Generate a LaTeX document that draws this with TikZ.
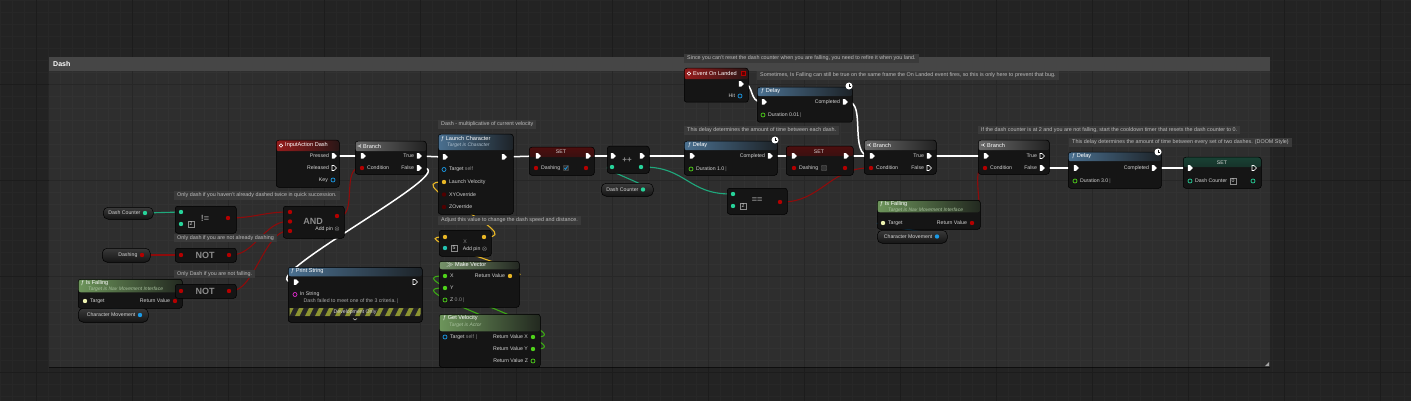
\documentclass[tikz,border=0pt]{standalone}
\usepackage{fontspec}
\setmainfont{Liberation Sans}
\usetikzlibrary{positioning,shapes.symbols,backgrounds}
\pgfdeclarelayer{wires}
\pgfsetlayers{background,wires,main}

\begin{document}
\begin{tikzpicture}[
    x=1pt, y=-1pt,
    font=\fontsize{5.2}{6}\selectfont,
    bpnode/.style={draw=black, fill=uenode, rounded corners=2.5pt, inner sep=0pt,
        anchor=north west, line width=.5pt},
    hdr/.style 2 args={path picture={
        \shade[left color=#1, right color=#1!15!uenode]
            (path picture bounding box.north west)
            rectangle ([yshift=-#2pt]path picture bounding box.north east);}},
    sethdr/.style={path picture={
        \shade[top color=#1, bottom color=uenode]
            (path picture bounding box.north west)
            rectangle ([yshift=-10pt]path picture bounding box.north east);}},
    varnode/.style={draw=black, top color=uevar, bottom color=uenode, rounded corners=5pt,
        inner sep=0pt, anchor=north west, line width=.5pt},
    bubble/.style={fill=uebubble, text=uecmttxt, anchor=north west, inner xsep=3pt,
        inner ysep=1.8pt, font=\fontsize{5.4}{6}\selectfont},
    execpin/.style={signal, fill=white, inner sep=0pt, minimum width=5pt, minimum height=5.5pt},
    hexecpin/.style={signal, draw=white, line width=.6pt, inner sep=0pt,
        minimum width=4.5pt, minimum height=5pt},
    dpin/.style={circle, fill=#1, inner sep=0pt, minimum size=4.4pt},
    hpin/.style={circle, draw=#1, line width=.7pt, inner sep=0pt, minimum size=4pt},
    pintext/.style={text=uetxt, inner sep=.5pt},
    deftext/.style={text=uegrey, inner sep=.5pt},
    titletext/.style={text=white, anchor=west, inner sep=0pt, font=\fontsize{5.6}{6}\selectfont},
    subtext/.style={anchor=west, inner sep=0pt, font=\fontsize{5}{6}\selectfont\itshape},
    optext/.style={text=uegrey, inner sep=0pt, font=\fontsize{9}{10}\selectfont\bfseries},
    litbox/.style={draw=uegrey, inner sep=.8pt, text=uetxt, minimum size=5.5pt},
    latent/.style={circle, fill=white, inner sep=0pt, minimum size=7pt},
    execw/.style={white, line width=1.5pt},
    dataw/.style={line width=1.1pt}
]

\definecolor{uebg}{HTML}{232323}
\definecolor{uegrid}{HTML}{272727}
\definecolor{uemajor}{HTML}{1C1C1C}
\definecolor{uecmthdr}{HTML}{464646}
\definecolor{uenode}{HTML}{151515}
\definecolor{uevar}{HTML}{3A3A3A}
\definecolor{uebubble}{HTML}{3A3A3A}
\definecolor{uecmttxt}{HTML}{BDBDBD}
\definecolor{uetxt}{HTML}{D4D4D4}
\definecolor{uegrey}{HTML}{8C8C8C}
\definecolor{uebool}{HTML}{B40000}
\definecolor{ueboolw}{HTML}{8E0B0B}
\definecolor{ueint}{HTML}{27D39A}
\definecolor{ueintw}{HTML}{1FA87C}
\definecolor{uevec}{HTML}{E8B625}
\definecolor{uefloat}{HTML}{4FD21A}
\definecolor{uefloatw}{HTML}{3BA814}
\definecolor{ueobj}{HTML}{1A9AE6}
\definecolor{ueiface}{HTML}{EEF2B0}
\definecolor{uestr}{HTML}{E22BD0}
\definecolor{hfunc}{HTML}{4A7090}
\definecolor{hpure}{HTML}{6D955B}
\definecolor{hevent}{HTML}{961C1C}
\definecolor{hbranch}{HTML}{6A6A6A}
\definecolor{hazard}{HTML}{8C9431}

\useasboundingbox (0,0) rectangle (1411,401);

% ==========================================
% 1. BACKGROUND GRID & COMMENT FRAME
% ==========================================

\begin{pgfonlayer}{background}
    \fill[uebg] (0,0) rectangle (1411,401);
    \foreach \x in {0,12,...,1404}
        \draw[uegrid, line width=.5pt] (\x,0) -- (\x,401);
    \foreach \y in {0,12,...,396}
        \draw[uegrid, line width=.5pt] (0,\y) -- (1411,\y);
    \foreach \x in {36,132,...,1380}
        \draw[uemajor, line width=.9pt] (\x,0) -- (\x,401);
    \foreach \y in {84,180,276,372}
        \draw[uemajor, line width=.9pt] (0,\y) -- (1411,\y);

    % comment frame
    \fill[white, opacity=.05] (49,71) rectangle (1270,367);
    \fill[uecmthdr] (49,57) rectangle (1270,71);
    \draw[black, opacity=.6, line width=1pt] (49,367.5) -- (1270,367.5);
    \fill[gray!70] (1269,362) -- (1269,366) -- (1265,366) -- cycle;
\end{pgfonlayer}

\node[text=white, anchor=west, inner sep=0pt, font=\fontsize{7}{8}\selectfont\bfseries]
    (dashTitle) at (53,64) {Dash};

% ==========================================
% 2. CONDITIONS (left column)
% ==========================================

\node[bubble] (cmtTwice) at (174,191) {Only dash if you haven't already dashed twice in quick succession.};
\node[bubble] (cmtDashing) at (174,233.5) {Only dash if you are not already dashing};
\node[bubble] (cmtFalling) at (174,269.5) {Only Dash if you are not falling.};

% Dash Counter -> !=
\node[varnode, minimum width=50pt, minimum height=12pt] (dcA) at (103,207) {};
\node[dpin=ueint] (dcA-o) at (145,213) {};
\node[pintext, left=1.5pt of dcA-o] (dcA-l) {Dash Counter};

\node[bpnode, minimum width=61pt, minimum height=27pt] (neq) at (175,206) {};
\node[dpin=ueint] (neq-a) at (181,212) {};
\node[dpin=ueint] (neq-b) at (181,224) {};
\node[litbox] (neq-lit) at (191,224) {2};
\node[optext] (neq-op) at (205,218) {!=};
\node[dpin=uebool] (neq-o) at (228,218) {};

% Dashing -> NOT
\node[varnode, minimum width=48pt, minimum height=14pt] (dsh) at (102,248) {};
\node[dpin=uebool] (dsh-o) at (142,255) {};
\node[pintext, left=1.5pt of dsh-o] (dsh-l) {Dashing};

\node[bpnode, minimum width=61pt, minimum height=14pt] (notA) at (175,248) {};
\node[dpin=uebool] (notA-i) at (181,255) {};
\node[dpin=uebool] (notA-o) at (229,255) {};
\node[optext] (notA-op) at (205,255) {NOT};

% Is Falling -> NOT
\node[bpnode, minimum width=104pt, minimum height=29pt, hdr={hpure}{13}] (fallA) at (78,279) {};
\node[titletext] (fallA-t) at (81,283.5) {ƒ Is Falling};
\node[subtext, text=hpure!60!white] (fallA-s) at (88,289.5) {Target is Nav Movement Interface};
\node[dpin=ueiface] (fallA-tg) at (85,301) {};
\node[pintext, right=2pt of fallA-tg] (fallA-tgl) {Target};
\node[dpin=uebool] (fallA-o) at (175,301) {};
\node[pintext, left=2pt of fallA-o] (fallA-ol) {Return Value};

\node[varnode, minimum width=70pt, minimum height=14pt] (cmvA) at (78,308) {};
\node[dpin=ueobj] (cmvA-o) at (140,315) {};
\node[pintext, left=1.5pt of cmvA-o] (cmvA-l) {Character Movement};

\node[bpnode, minimum width=61pt, minimum height=14pt] (notB) at (175,284) {};
\node[dpin=uebool] (notB-i) at (181,291) {};
\node[dpin=uebool] (notB-o) at (229,291) {};
\node[optext] (notB-op) at (205,291) {NOT};

% AND
\node[bpnode, minimum width=61pt, minimum height=32pt] (andN) at (283,206) {};
\node[dpin=uebool] (andN-a) at (290,212) {};
\node[dpin=uebool] (andN-b) at (290,221.5) {};
\node[dpin=uebool] (andN-c) at (290,231) {};
\node[dpin=uebool] (andN-o) at (337,216) {};
\node[optext] (andN-op) at (313,221) {AND};
\node[pintext, anchor=east] (andN-add) at (340.5,229) {Add pin $\otimes$};

% ==========================================
% 3. INPUT, BRANCH, PRINT STRING
% ==========================================

\node[bpnode, minimum width=63pt, minimum height=47pt, hdr={hevent}{11}] (inDash) at (276,140) {};
\draw[white, line width=.6pt] (281,145.5) circle (1.8pt);
\node[titletext] (inDash-t) at (285,145.5) {InputAction Dash};
\node[execpin] (inDash-pr) at (333,156) {};
\node[pintext, left=2pt of inDash-pr] (inDash-prl) {Pressed};
\node[hexecpin] (inDash-re) at (333,168) {};
\node[pintext, left=2pt of inDash-re] (inDash-rel) {Released};
\node[hpin=ueobj] (inDash-k) at (333,180) {};
\node[pintext, left=2pt of inDash-k] (inDash-kl) {Key};

\node[bpnode, minimum width=71pt, minimum height=33pt, hdr={hbranch}{10}] (brA) at (355,141) {};
\draw[white, line width=.6pt] (357.5,146) -- (359.5,146) -- (361,144.5) (359.5,146) -- (361,147.5);
\node[titletext] (brA-t) at (363,146) {Branch};
\node[execpin] (brA-in) at (362,156) {};
\node[dpin=uebool] (brA-c) at (362,168) {};
\node[pintext, right=2pt of brA-c] (brA-cl) {Condition};
\node[execpin] (brA-tr) at (418,156) {};
\node[pintext, left=2pt of brA-tr] (brA-trl) {True};
\node[execpin] (brA-fa) at (418,168) {};
\node[pintext, left=2pt of brA-fa] (brA-fal) {False};

\node[bpnode, minimum width=134pt, minimum height=55pt, hdr={hfunc}{9}] (prStr) at (288,267) {};
\node[titletext] (prStr-t) at (291,271.5) {ƒ Print String};
\node[execpin] (prStr-in) at (295,282) {};
\node[hexecpin] (prStr-out) at (414,282) {};
\node[hpin=uestr] (prStr-s) at (295,294.5) {};
\node[pintext, right=2pt of prStr-s] (prStr-sl) {In String};
\node[deftext, anchor=west, text=uetxt!80!black] (prStr-def) at (303,301) {Dash failed to meet one of the 3 criteria.\,\textcolor{uegrey}{|}};
\begin{scope}
    \clip (289.5,308) rectangle (420.5,316);
    \fill[black!85] (289,308) rectangle (421,316);
    \foreach \i in {0,...,15}
        \fill[hazard] ({285+\i*10},316) -- ++(4,-8) -- ++(4.5,0) -- ++(-4,8) -- cycle;
\end{scope}
\node[text=uetxt, inner sep=0pt] (prStr-dev) at (355,312) {Development Only};
\draw[uetxt, line width=.5pt] (353,318.5) -- (355,320) -- (357,318.5);

% ==========================================
% 4. LAUNCH CHARACTER & VELOCITY MATH
% ==========================================

\node[bubble] (cmtMult) at (438,120) {Dash - multiplicative of current velocity};
\node[bubble] (cmtAdjust) at (438,216) {Adjust this value to change the dash speed and distance.};

\node[bpnode, minimum width=75pt, minimum height=80pt, hdr={hfunc}{16}] (launch) at (438,134) {};
\node[titletext] (launch-t) at (441,139) {ƒ Launch Character};
\node[subtext, text=hfunc!45!white] (launch-s) at (447,145) {Target is Character};
\node[execpin] (launch-in) at (444,157) {};
\node[execpin] (launch-out) at (503,157) {};
\node[hpin=ueobj] (launch-tg) at (444,169.5) {};
\node[pintext, right=2pt of launch-tg] (launch-tgl) {Target \textcolor{uegrey}{self}};
\node[dpin=uevec] (launch-v) at (444,182) {};
\node[pintext, right=2pt of launch-v] (launch-vl) {Launch Velocity};
\node[dpin=uebool!45!black] (launch-xy) at (444,194.5) {};
\node[pintext, right=2pt of launch-xy] (launch-xyl) {XYOverride};
\node[dpin=uebool!45!black] (launch-z) at (444,207) {};
\node[pintext, right=2pt of launch-z] (launch-zl) {ZOverride};

% multiply
\node[bpnode, minimum width=52pt, minimum height=26pt] (mul) at (439,230) {};
\node[dpin=uevec] (mul-a) at (445,237) {};
\node[dpin=uevec] (mul-o) at (484,237) {};
\node[dpin=ueint!70!ueobj] (mul-b) at (445,248) {};
\node[litbox] (mul-lit) at (454,248) {5};
\node[text=uegrey, inner sep=0pt] (mul-op) at (465,242) {X};
\node[pintext, anchor=east] (mul-add) at (488,249) {Add pin $\otimes$};

% make vector
\node[bpnode, minimum width=80pt, minimum height=46pt, hdr={hpure!70!uegrey}{8}] (mkVec) at (439,261) {};
\node[titletext] (mkVec-t) at (446,265) {$\gg$ Make Vector};
\node[dpin=uefloat] (mkVec-x) at (445,276) {};
\node[pintext, right=2pt of mkVec-x] (mkVec-xl) {X};
\node[dpin=uefloat] (mkVec-y) at (445,288) {};
\node[pintext, right=2pt of mkVec-y] (mkVec-yl) {Y};
\node[hpin=uefloat] (mkVec-z) at (445,300) {};
\node[pintext, right=2pt of mkVec-z] (mkVec-zl) {Z \textcolor{uegrey}{0.0\,|}};
\node[dpin=uevec] (mkVec-o) at (510,276) {};
\node[pintext, left=2pt of mkVec-o] (mkVec-ol) {Return Value};

% get velocity
\node[bpnode, minimum width=101pt, minimum height=53pt, hdr={hpure}{17}] (getVel) at (439,314) {};
\node[titletext] (getVel-t) at (443,318.5) {ƒ Get Velocity};
\node[subtext, text=hpure!60!white] (getVel-s) at (449,325) {Target is Actor};
\node[hpin=ueobj] (getVel-tg) at (445,337) {};
\node[pintext, right=2pt of getVel-tg] (getVel-tgl) {Target \textcolor{uegrey}{self\,\,|}};
\node[dpin=uefloat] (getVel-x) at (533,337) {};
\node[pintext, left=2pt of getVel-x] (getVel-xl) {Return Value X};
\node[dpin=uefloat] (getVel-y) at (533,349) {};
\node[pintext, left=2pt of getVel-y] (getVel-yl) {Return Value Y};
\node[hpin=uefloat] (getVel-z) at (533,361) {};
\node[pintext, left=2pt of getVel-z] (getVel-zl) {Return Value Z};

% ==========================================
% 5. SET DASHING, COUNTER, FIRST DELAY
% ==========================================

\node[bpnode, minimum width=65pt, minimum height=28pt, sethdr=uebool!35!uenode] (setA) at (529,147) {};
\node[text=uetxt, inner sep=0pt] (setA-t) at (561,152) {SET};
\node[execpin] (setA-in) at (537,156) {};
\node[execpin] (setA-out) at (587,156) {};
\node[dpin=uebool] (setA-v) at (536,168) {};
\node[pintext, right=2pt of setA-v] (setA-vl) {Dashing};
\node[draw=uegrey!60!black, fill=black!80, rounded corners=1pt, minimum size=5.5pt, inner sep=0pt] (setA-cb) at (566,168) {};
\draw[ueobj, line width=.7pt] (564.3,168) -- (565.5,169.3) -- (567.6,166.4);
\node[dpin=uebool] (setA-o) at (586,168) {};

\node[bpnode, minimum width=42pt, minimum height=27pt] (incr) at (607,146) {};
\node[optext, font=\fontsize{8}{9}\selectfont\bfseries] (incr-op) at (627,160) {++};
\node[execpin] (incr-in) at (612,156) {};
\node[execpin] (incr-out) at (641,156) {};
\node[dpin=ueint] (incr-a) at (612,167) {};
\node[dpin=ueint] (incr-o) at (641,167) {};

\node[varnode, minimum width=52pt, minimum height=13pt] (dcB) at (601,183) {};
\node[dpin=ueint] (dcB-o) at (643,189.5) {};
\node[pintext, left=1.5pt of dcB-o] (dcB-l) {Dash Counter};

\node[bubble] (cmtEach) at (684,126) {This delay determines the amount of time between each dash.};
\node[bpnode, minimum width=93pt, minimum height=34pt, hdr={hfunc}{9}] (delA) at (684,141) {};
\node[titletext] (delA-t) at (688,145.5) {ƒ Delay};
\node[latent] (delA-lat) at (775,140) {};
\draw[uenode, line width=.5pt] (775,137.8) -- (775,140) -- (776.8,140);
\node[execpin] (delA-in) at (691,156) {};
\node[execpin] (delA-out) at (769,156) {};
\node[pintext, left=2pt of delA-out] (delA-outl) {Completed};
\node[hpin=uefloat] (delA-d) at (691,169) {};
\node[pintext, right=2pt of delA-d] (delA-dl) {Duration \textcolor{uetxt}{1.0}\,\textcolor{uegrey}{|}};

\node[bpnode, minimum width=60pt, minimum height=26pt] (eqN) at (727,188) {};
\node[dpin=ueint] (eqN-a) at (733,194) {};
\node[dpin=ueint] (eqN-b) at (733,206) {};
\node[litbox] (eqN-lit) at (743,206) {2};
\node[optext] (eqN-op) at (757,200) {==};
\node[dpin=uebool] (eqN-o) at (780,202) {};

\node[bpnode, minimum width=67pt, minimum height=29pt, sethdr=uebool!35!uenode] (setB) at (786,146) {};
\node[text=uetxt, inner sep=0pt] (setB-t) at (819,152) {SET};
\node[execpin] (setB-in) at (793,156) {};
\node[execpin] (setB-out) at (845,156) {};
\node[dpin=uebool] (setB-v) at (794,168) {};
\node[pintext, right=2pt of setB-v] (setB-vl) {Dashing};
\node[draw=uegrey!60!black, fill=black!80, rounded corners=1pt, minimum size=5.5pt, inner sep=0pt] (setB-cb) at (824,168) {};
\node[dpin=uebool] (setB-o) at (845,168) {};

% ==========================================
% 6. ON LANDED REFIRE
% ==========================================

\node[bubble] (cmtLand) at (684,54) {Since you can't reset the dash counter when you are falling, you need to refire it when you land.};
\node[bubble] (cmtBug) at (757,71) {Sometimes, Is Falling can still be true on the same frame the On Landed event fires, so this is only here to prevent that bug.};

\node[bpnode, minimum width=64pt, minimum height=34pt, hdr={hevent}{11}] (landed) at (684,68) {};
\draw[white, line width=.6pt] (689,73.5) circle (1.8pt);
\node[titletext] (landed-t) at (693,73.5) {Event On Landed};
\node[draw=uebool, fill=uebool!50!black, minimum size=4pt, inner sep=0pt] (landed-dl) at (743,73.5) {};
\node[execpin] (landed-out) at (740,84) {};
\node[hpin=ueobj] (landed-hit) at (740,96) {};
\node[pintext, left=2pt of landed-hit] (landed-hitl) {Hit};

\node[bpnode, minimum width=95pt, minimum height=35pt, hdr={hfunc}{9}] (delB) at (757,87) {};
\node[titletext] (delB-t) at (761,91.5) {ƒ Delay};
\node[latent] (delB-lat) at (849,86) {};
\draw[uenode, line width=.5pt] (849,83.8) -- (849,86) -- (850.8,86);
\node[execpin] (delB-in) at (763,102) {};
\node[execpin] (delB-out) at (844,102) {};
\node[pintext, left=2pt of delB-out] (delB-outl) {Completed};
\node[hpin=uefloat] (delB-d) at (763,115) {};
\node[pintext, right=2pt of delB-d] (delB-dl) {Duration \textcolor{uetxt}{0.01}\,\textcolor{uegrey}{|}};

% ==========================================
% 7. COOLDOWN BRANCHES
% ==========================================

\node[bpnode, minimum width=72pt, minimum height=34pt, hdr={hbranch}{10}] (brB) at (864,140) {};
\draw[white, line width=.6pt] (867,145) -- (869,145) -- (870.5,143.5) (869,145) -- (870.5,146.5);
\node[titletext] (brB-t) at (873,145) {Branch};
\node[execpin] (brB-in) at (871,156) {};
\node[dpin=uebool] (brB-c) at (871,168) {};
\node[pintext, right=2pt of brB-c] (brB-cl) {Condition};
\node[execpin] (brB-tr) at (928,156) {};
\node[pintext, left=2pt of brB-tr] (brB-trl) {True};
\node[hexecpin] (brB-fa) at (928,168) {};
\node[pintext, left=2pt of brB-fa] (brB-fal) {False};

\node[bpnode, minimum width=103pt, minimum height=29pt, hdr={hpure}{12}] (fallB) at (877,200) {};
\node[titletext] (fallB-t) at (880,204.5) {ƒ Is Falling};
\node[subtext, text=hpure!60!white] (fallB-s) at (888,210.5) {Target is Nav Movement Interface};
\node[dpin=ueiface] (fallB-tg) at (883,223) {};
\node[pintext, right=2pt of fallB-tg] (fallB-tgl) {Target};
\node[dpin=uebool] (fallB-o) at (972,223) {};
\node[pintext, left=2pt of fallB-o] (fallB-ol) {Return Value};

\node[varnode, minimum width=70pt, minimum height=13pt] (cmvB) at (877,230) {};
\node[dpin=ueobj] (cmvB-o) at (937,236.5) {};
\node[pintext, left=1.5pt of cmvB-o] (cmvB-l) {Character Movement};

\node[bubble] (cmtReset) at (978,125.5) {If the dash counter is at 2 and you are not falling, start the cooldown timer that resets the dash counter to 0.};
\node[bpnode, minimum width=71pt, minimum height=34pt, hdr={hbranch}{10}] (brC) at (978,140) {};
\draw[white, line width=.6pt] (981,145) -- (983,145) -- (984.5,143.5) (983,145) -- (984.5,146.5);
\node[titletext] (brC-t) at (987,145) {Branch};
\node[execpin] (brC-in) at (985,156) {};
\node[dpin=uebool] (brC-c) at (985,168) {};
\node[pintext, right=2pt of brC-c] (brC-cl) {Condition};
\node[hexecpin] (brC-tr) at (1041,156) {};
\node[pintext, left=2pt of brC-tr] (brC-trl) {True};
\node[execpin] (brC-fa) at (1041,168) {};
\node[pintext, left=2pt of brC-fa] (brC-fal) {False};

\node[bubble] (cmtDoom) at (1069,138) {This delay determines the amount of time between every set of two dashes. (DOOM Style)};
\node[bpnode, minimum width=93pt, minimum height=36pt, hdr={hfunc}{9}] (delC) at (1068,152) {};
\node[titletext] (delC-t) at (1072,156.5) {ƒ Delay};
\node[latent] (delC-lat) at (1158,152) {};
\draw[uenode, line width=.5pt] (1158,149.8) -- (1158,152) -- (1159.8,152);
\node[execpin] (delC-in) at (1075,168) {};
\node[execpin] (delC-out) at (1153,168) {};
\node[pintext, left=2pt of delC-out] (delC-outl) {Completed};
\node[hpin=uefloat] (delC-d) at (1075,181) {};
\node[pintext, right=2pt of delC-d] (delC-dl) {Duration \textcolor{uetxt}{3.0}\,\textcolor{uegrey}{|}};

\node[bpnode, minimum width=78pt, minimum height=31pt, sethdr=ueintw!30!uenode] (setC) at (1183,157) {};
\node[text=uetxt, inner sep=0pt] (setC-t) at (1222,163) {SET};
\node[execpin] (setC-in) at (1189,168) {};
\node[hexecpin] (setC-out) at (1253,168) {};
\node[hpin=ueint] (setC-v) at (1190,181) {};
\node[pintext, right=2pt of setC-v] (setC-vl) {Dash Counter};
\node[litbox] (setC-lit) at (1233,181) {0};
\node[hpin=ueint] (setC-o) at (1253,181) {};

% ==========================================
% 8. WIRES (behind the nodes)
% ==========================================

\begin{pgfonlayer}{wires}
    % exec
    \draw[execw] (inDash-pr) -- (brA-in);
    \draw[execw] (brA-tr) -- (launch-in);
    \draw[execw] (brA-fa) .. controls +(50,0) and +(-50,0) .. (prStr-in);
    \draw[execw] (launch-out) -- (setA-in);
    \draw[execw] (setA-out) -- (incr-in);
    \draw[execw] (incr-out) -- (delA-in);
    \draw[execw] (delA-out) -- (setB-in);
    \draw[execw] (setB-out) -- (brB-in);
    \draw[execw] (landed-out) .. controls +(14,0) and +(-14,0) .. (delB-in);
    \draw[execw] (delB-out) .. controls +(22,0) and +(-22,0) .. (brB-in);
    \draw[execw] (brB-tr) -- (brC-in);
    \draw[execw] (brC-fa) -- (delC-in);
    \draw[execw] (delC-out) -- (setC-in);

    % booleans
    \draw[dataw, ueboolw] (neq-o) .. controls +(25,0) and +(-25,0) .. (andN-a);
    \draw[dataw, ueboolw] (notA-o) .. controls +(25,0) and +(-25,0) .. (andN-b);
    \draw[dataw, ueboolw] (notB-o) .. controls +(25,0) and +(-25,0) .. (andN-c);
    \draw[dataw, ueboolw] (dsh-o) -- (notA-i);
    \draw[dataw, ueboolw] (fallA-o) .. controls +(5,0) and +(-5,0) .. (notB-i);
    \draw[dataw, ueboolw] (andN-o) .. controls +(20,0) and +(-20,0) .. (brA-c);
    \draw[dataw, ueboolw] (eqN-o) .. controls +(40,0) and +(-40,0) .. (brB-c);
    \draw[dataw, ueboolw] (fallB-o) .. controls +(15,0) and +(-15,0) .. (brC-c);

    % integers
    \draw[dataw, ueintw] (dcA-o) -- (neq-a);
    \draw[dataw, ueintw] (dcB-o) .. controls +(18,0) and +(-18,0) .. (incr-a);
    \draw[dataw, ueintw] (incr-o) .. controls +(45,0) and +(-45,0) .. (eqN-a);

    % objects
    \draw[dataw, ueobj] (cmvA-o) .. controls +(25,0) and +(-25,0) .. (fallA-tg);
    \draw[dataw, ueobj] (cmvB-o) .. controls +(25,0) and +(-25,0) .. (fallB-tg);

    % vectors & floats
    \draw[dataw, uevec] (mul-o) .. controls +(45,0) and +(-45,0) .. (launch-v);
    \draw[dataw, uevec] (mkVec-o) .. controls +(45,0) and +(-45,0) .. (mul-a);
    \draw[dataw, uefloatw] (getVel-x) .. controls +(55,0) and +(-55,0) .. (mkVec-x);
    \draw[dataw, uefloatw] (getVel-y) .. controls +(55,0) and +(-55,0) .. (mkVec-y);
\end{pgfonlayer}

\end{tikzpicture}
\end{document}
